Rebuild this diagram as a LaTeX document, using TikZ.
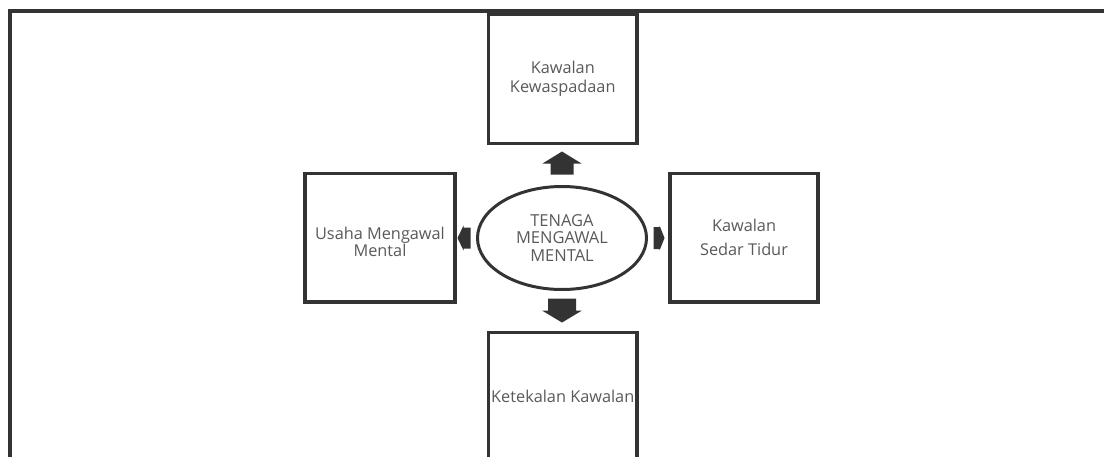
\documentclass[tikz,border=0pt]{standalone}
\usepackage{fontspec}
\setmainfont{Open Sans}
\usetikzlibrary{shapes.geometric}
\definecolor{linegray}{HTML}{333333}
\definecolor{textgray}{HTML}{595959}
\begin{document}
\begin{tikzpicture}[x=1pt,y=-1pt,
  frameline/.style={draw=linegray, line width=4pt},
  box/.style={draw=linegray, line width=3.5pt, inner sep=0pt,
    minimum width=148.5pt, minimum height=129.5pt,
    align=center, text=textgray, font=\fontsize{16.3}{18}\selectfont},
  boxtext/.style={align=center, text=textgray, inner sep=0pt,
    font=\fontsize{16.3}{18}\selectfont},
  hub/.style={ellipse, draw=linegray, line width=3pt, inner sep=0pt,
    minimum width=169pt, minimum height=103pt,
    align=center, text=textgray, font=\fontsize{16.5}{17.5}\selectfont},
  blockarrow/.style={fill=linegray, draw=none}]
\useasboundingbox (0,0) rectangle (1104,456);
\clip (0,0) rectangle (1104,456);

% open frame along the left and top edges
\draw[frameline] (9.5,470) -- (9.5,10.5) -- (1120,10.5);

% central ellipse
\node[hub] (hub) at (562,238) {TENAGA\\MENGAWAL\\MENTAL};

% four surrounding boxes
\node[box] (top) at (562.75,78.75) {Kawalan\\[1pt]Kewaspadaan};
\node[box, minimum width=150pt, minimum height=128.5pt,
  label={[boxtext, name=leftlabel, yshift=-4pt]center:{Usaha Mengawal\\[-1.5pt]Mental}}]
  (left) at (380,237.75) {};
\node[box, minimum width=148pt, minimum height=128.5pt]
  (right) at (744,237.75) {Kawalan\\[6pt]Sedar Tidur};
\node[box, minimum height=127pt] (bottom) at (562.75,396) {Ketekalan Kawalan};

% block arrows pointing outwards from the ellipse
\fill[blockarrow] (hub.north) ++(0,-10.5) -- ++(-11.5,0) -- ++(0,-11) -- ++(-8,0)
  -- ++(19.5,-12) -- ++(19.5,12) -- ++(-8,0) -- ++(0,11) -- cycle;
\fill[blockarrow] (hub.south) ++(0,7.5) -- ++(-14,0) -- ++(0,12) -- ++(-6,0)
  -- ++(20,12) -- ++(20,-12) -- ++(-6,0) -- ++(0,-12) -- cycle;
\fill[blockarrow] (hub.west) ++(-5.5,0) -- ++(0,-10.5) -- ++(-7,0) -- ++(0,-2)
  -- ++(-6,12.5) -- ++(6,12.5) -- ++(0,-2) -- ++(7,0) -- cycle;
\fill[blockarrow] (hub.east) ++(5.5,0) -- ++(0,-11) -- ++(6,0) -- ++(0,-1.5)
  -- ++(5,12.5) -- ++(-5,12.5) -- ++(0,-1.5) -- ++(-6,0) -- cycle;
\end{tikzpicture}
\end{document}
